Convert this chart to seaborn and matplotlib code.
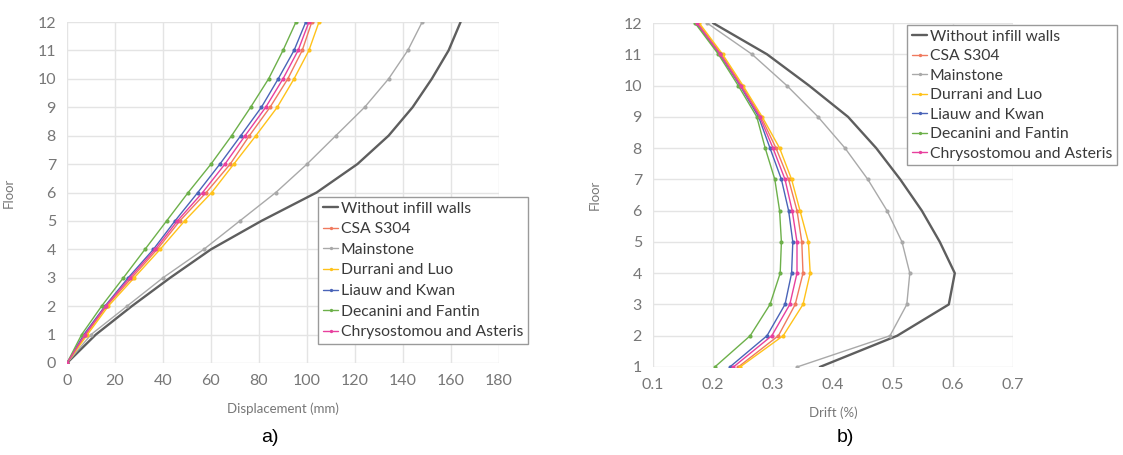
import numpy as np
import pandas as pd
import matplotlib
matplotlib.use("Agg")
import matplotlib.pyplot as plt
import seaborn as sns

# series names / colours
names = ["Without infill walls", "CSA S304", "Mainstone", "Durrani and Luo",
         "Liauw and Kwan", "Decanini and Fantin", "Chrysostomou and Asteris"]
colors = ["#5E5E5E", "#F07A5E", "#A9A9A9", "#FFC21A", "#4A64B8", "#6DB04A", "#E8409E"]

# a) displacement (mm) per floor
floors_a = list(range(0, 13))
without_a = [0, 12, 27, 43, 60, 81, 104, 121, 134, 144, 152, 159, 164]
csa_a = [0, 7.9, 16.5, 27, 37.6, 47, 58, 68, 76, 84.6, 92, 98, 102]
mainstone_a = [0, 10, 25, 40, 57, 72, 87, 100, 112, 124, 134, 142, 148]
durrani_a = [0, 8.5, 17.2, 28, 38.8, 49, 60.3, 69.5, 78.7, 87.6, 94.6, 100.8, 105]
liauw_a = [0, 7, 15.8, 25.5, 36, 45, 54.5, 63.7, 72.4, 81, 88, 94.6, 99.5]
decanini_a = [0, 6.1, 14.4, 23.5, 32.5, 41.5, 50.5, 60, 68.6, 76.5, 84, 90, 95.4]
chryso_a = [0, 7.5, 16.1, 26.2, 36.8, 46, 56.5, 65.8, 74.2, 82.8, 90, 96.3, 100.8]

# b) drift (%) per floor
floors_b = list(range(1, 13))
without_b = [0.378, 0.507, 0.593, 0.603, 0.578, 0.548, 0.512, 0.472, 0.425, 0.36, 0.29, 0.2]
csa_b = [0.242, 0.309, 0.337, 0.35, 0.348, 0.34, 0.326, 0.305, 0.28, 0.248, 0.214, 0.175]
mainstone_b = [0.34, 0.495, 0.523, 0.528, 0.515, 0.49, 0.458, 0.42, 0.375, 0.323, 0.265, 0.19]
durrani_b = [0.245, 0.317, 0.35, 0.362, 0.359, 0.345, 0.331, 0.311, 0.282, 0.25, 0.216, 0.177]
liauw_b = [0.228, 0.29, 0.32, 0.331, 0.333, 0.326, 0.314, 0.295, 0.276, 0.245, 0.211, 0.172]
decanini_b = [0.203, 0.262, 0.295, 0.312, 0.314, 0.311, 0.303, 0.287, 0.273, 0.242, 0.209, 0.17]
chryso_b = [0.234, 0.298, 0.328, 0.34, 0.34, 0.332, 0.32, 0.3, 0.278, 0.246, 0.212, 0.173]

series_a = [without_a, csa_a, mainstone_a, durrani_a, liauw_a, decanini_a, chryso_a]
series_b = [without_b, csa_b, mainstone_b, durrani_b, liauw_b, decanini_b, chryso_b]

sns.set_theme(style="white")
plt.rcParams['font.family'] = ['Lato', 'DejaVu Sans']

fig = plt.figure(figsize=(11.23, 4.55), dpi=100)
ax1 = fig.add_axes([67 / 1123, 1 - 363 / 455, 432 / 1123, 341 / 455])
ax2 = fig.add_axes([653 / 1123, 1 - 367 / 455, 360 / 1123, 344 / 455])

tick_col = "#777777"
grid_col = "#E4E4E4"


def draw(ax, floors, series):
    for name, col, vals in zip(names, colors, series):
        df = pd.DataFrame({"x": vals, "Floor": floors})
        if name == "Without infill walls":
            sns.lineplot(data=df, x="x", y="Floor", ax=ax, color=col, lw=1.7,
                         sort=False, estimator=None, label=name)
        else:
            sns.lineplot(data=df, x="x", y="Floor", ax=ax, color=col, lw=1.0,
                         marker="o", markersize=3, markeredgewidth=0,
                         sort=False, estimator=None, label=name)
    ax.grid(True, color=grid_col, lw=1)
    for s in ax.spines.values():
        s.set_visible(False)
    ax.tick_params(axis="both", length=0, labelsize=11.5, labelcolor=tick_col, pad=8)
    ax.set_ylabel("Floor", fontsize=9.5, color=tick_col, labelpad=16)
    return ax.get_legend_handles_labels()


def add_legend(ax, h, l, x, y, spacing):
    leg = ax.legend(h, l, loc="upper left", bbox_to_anchor=(x / 1123, 1 - y / 455),
                    bbox_transform=fig.transFigure, frameon=True, fancybox=False,
                    framealpha=1, edgecolor="#9A9A9A", fontsize=11.3, handlelength=1.0,
                    handletextpad=0.15, labelspacing=spacing, borderpad=0.3,
                    borderaxespad=0, markerscale=0.8)
    leg.get_frame().set_linewidth(1.0)
    for t in leg.get_texts():
        t.set_color("#3A3A3A")


h, l = draw(ax1, floors_a, series_a)
ax1.set_xlim(0, 180)
ax1.set_ylim(0, 12)
ax1.set_xticks(np.arange(0, 181, 20))
ax1.set_yticks(range(0, 13))
ax1.set_xlabel("Displacement (mm)", fontsize=9.5, color=tick_col, labelpad=10)
ax1.get_legend().remove()
add_legend(ax1, h, l, 318, 197, 0.42)

h, l = draw(ax2, floors_b, series_b)
ax2.set_xlim(0.1, 0.7)
ax2.set_ylim(1, 12)
ax2.set_xticks(np.round(np.arange(0.1, 0.71, 0.1), 1))
ax2.set_xticklabels(["0.1", "0.2", "0.3", "0.4", "0.5", "0.6", "0.7"])
ax2.set_yticks(range(1, 13))
ax2.set_xlabel("Drift (%)", fontsize=9.5, color=tick_col, labelpad=10)
ax2.get_legend().remove()
add_legend(ax2, h, l, 907, 25, 0.35)

fig.text(270 / 1123, 1 - 437 / 455, "a)", fontsize=14, family="Liberation Sans",
         ha="center", va="center", color="black")
fig.text(845 / 1123, 1 - 437 / 455, "b)", fontsize=14, family="Liberation Sans",
         ha="center", va="center", color="black")

fig.savefig("out.png", dpi=100)
